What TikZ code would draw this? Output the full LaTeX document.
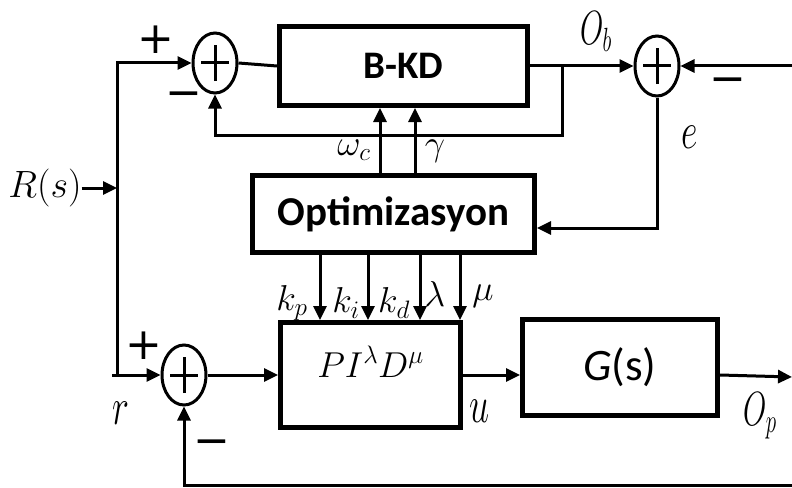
\RequirePackage{fix-cm}
\documentclass[tikz,border=0pt]{standalone}
\usepackage{fontspec}
\usepackage{graphicx}
\newfontfamily\boxfont{Carlito}
\newfontfamily\signfont{DejaVu Sans}
\usetikzlibrary{shapes.geometric, arrows.meta, positioning, calc}
\tikzstyle{arrow} = [line width=3pt,-{Triangle[length=14pt,width=13pt]}]
\tikzstyle{line} = [line width=3pt]
\tikzstyle{block} = [rectangle, draw=black, line width=5pt, inner sep=0pt]
\tikzstyle{sumnode} = [ellipse, draw=black, line width=3pt, minimum width=44pt, minimum height=60pt, inner sep=0pt,
  path picture={\draw[line width=3pt] ($(path picture bounding box.center)+(-14pt,0)$) -- ($(path picture bounding box.center)+(14pt,0)$)
    ($(path picture bounding box.center)+(0,-18pt)$) -- ($(path picture bounding box.center)+(0,18pt)$);}]
\tikzstyle{lbl} = [inner sep=0pt, font=\fontsize{36}{36}\selectfont]
\tikzstyle{sign} = [inner sep=0pt, font=\signfont\fontsize{44}{44}\selectfont]
\newcommand{\tall}[1]{\scalebox{1}[1.45]{#1}}

\begin{document}
\begin{tikzpicture}[x=1pt, y=-1pt]
        \useasboundingbox (0,0) rectangle (792,487);
        % Nodes
        \node (sumtop) [sumnode] at (215,63) {};
        \node (bkd) [block, minimum width=248pt, minimum height=79pt, font=\boxfont\bfseries\fontsize{39}{39}\selectfont] at (403.5,66) {B-KD};
        \node (sumerr) [sumnode] at (657,66) {};
        \node (opt) [block, minimum width=282pt, minimum height=77pt, font=\boxfont\bfseries\fontsize{41}{41}\selectfont] at (393.5,214) {Optimizasyon};
        \node (pid) [block, minimum width=180pt, minimum height=105pt, text height=20pt, text depth=16pt, font=\fontsize{36}{36}\selectfont] at (370.5,375) {$PI^{\lambda}D^{\mu}$};
        \node (plant) [block, minimum width=195pt, minimum height=96pt, font=\boxfont\fontsize{45}{45}\selectfont] at (620,367) {{\itshape G}(s)};
        \node (sumbot) [sumnode] at (184,375) {};

        % Signals and signs
        \node (rs) [lbl, font=\fontsize{38}{38}\selectfont] at (45,188) {$R(s)$};
        \node (plustop) [sign] at (156,40) {+};
        \node (minustop) [sign] at (184,100) {−};
        \node (minuserr) [sign] at (728,86) {−};
        \node (plusbot) [sign] at (144,346) {+};
        \node (minusbot) [sign] at (212,448) {−};
        \node (lob) [lbl, font=\fontsize{30}{30}\selectfont] at (596,32) {\scalebox{1}[1.6]{$O_b$}};
        \node (lop) [lbl, font=\fontsize{30}{30}\selectfont] at (760,416) {\scalebox{1}[1.6]{$O_p$}};
        \node (le) [lbl] at (690,137) {\tall{$e$}};
        \node (lr) [lbl] at (121,413) {\tall{$r$}};
        \node (lu) [lbl] at (480,411) {\tall{$u$}};
        \node (lwc) [lbl] at (354,150) {$\omega_c$};
        \node (lgam) [lbl] at (435,151) {$\gamma$};
        \node (lkp) [lbl] at (292,303) {$k_p$};
        \node (lki) [lbl] at (346,303) {$k_i$};
        \node (lkd) [lbl] at (394,303) {$k_d$};
        \node (llam) [lbl] at (435,294) {$\lambda$};
        \node (lmu) [lbl] at (483,296) {$\mu$};

        \coordinate (rbot) at (117,375);
        \coordinate (rstart) at (112,375);
        \coordinate (rsplit) at (117,192);
        \coordinate (obk) at (562,66);
        \coordinate (fbk) at (562,135);
        \coordinate (ein) at (792,66);
        \coordinate (opout) at (792,377);
        \coordinate (fbot) at (792,485);

        % Arrows
        \draw [arrow] (rs.east) -- (rs.east -| rsplit);
        \draw [arrow] (rbot) |- (sumtop.west);
        \draw [arrow] (rstart) -- (sumbot.west);
        \draw [line] (sumtop.east) -- (bkd.west);
        \draw [arrow] (bkd.east) -- (sumerr.west);
        \draw [arrow] (obk) -- (fbk) -| (sumtop.south);
        \draw [arrow] (ein) -- (sumerr.east);
        \draw [arrow] (sumerr.south) |- ([yshift=-14pt]opt.east);
        \foreach \dx in {-13.5,21.5}
            \draw [arrow] ([xshift=\dx pt]opt.north) -- ([xshift=\dx pt]opt.north |- bkd.south);
        \foreach \dx in {-73.5,-25.5,26.5,66.5}
            \draw [arrow] ([xshift=\dx pt]opt.south) -- ([xshift=\dx pt]opt.south |- pid.north);
        \draw [arrow] (sumbot.east) -- (pid.west);
        \draw [arrow] (pid.east) -- (pid.east -| plant.west);
        \draw [arrow] (plant.east |- pid.east) -- (opout);
        \draw [arrow] (fbot) -| (sumbot.south);
    \end{tikzpicture}
\end{document}
